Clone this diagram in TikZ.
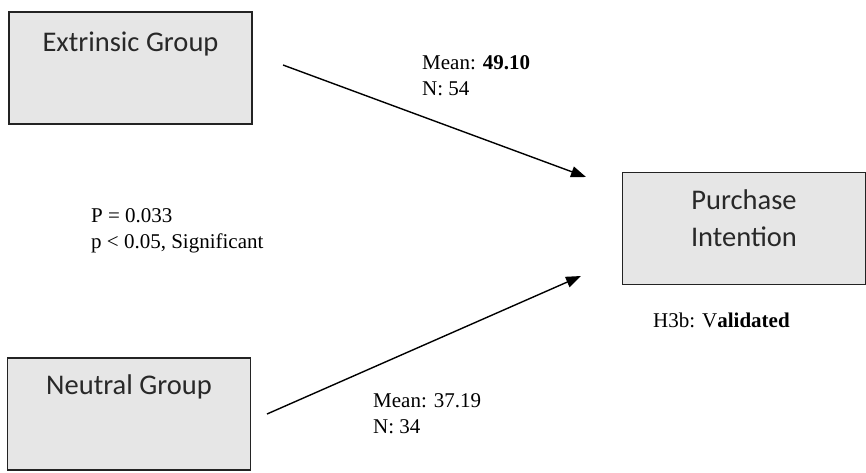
\documentclass[tikz,border=0pt]{standalone}
\usepackage{fontspec}
\setmainfont{Liberation Serif}
\newfontfamily\boxfont{Carlito}
\usetikzlibrary{arrows.meta}
\definecolor{boxgray}{RGB}{230,230,230}
\definecolor{linegray}{RGB}{35,35,35}
\definecolor{textgray}{RGB}{40,40,40}
\tikzset{
  groupbox/.style={draw=linegray, line width=1.5pt, fill=boxgray, minimum width=243pt, minimum height=112pt, inner sep=0pt},
  boxtext/.style={font=\boxfont\fontsize{28.5}{37}\selectfont, text=textgray, align=center, inner sep=0pt, anchor=base},
  stattext/.style={font=\fontsize{21}{25.5}\selectfont, align=left, anchor=base west, inner sep=0pt},
  effect/.style={line width=1.4pt, -{Triangle[length=15pt,width=11pt]}}
}
\begin{document}
\begin{tikzpicture}[x=1pt,y=1pt,yscale=-1,xscale=1]
\useasboundingbox (0,0) rectangle (866,472);

%Shape: Rectangles
\node [groupbox] (extrinsic) at (130.5,68) {};
\node [groupbox] (purchase) at (744,228.5) {};
\node [groupbox] (neutral) at (129,414) {};

% Text Nodes in boxes (base = last line)
\node [boxtext] (extrinsiclabel) at ([yshift=40pt]extrinsic.north) {Extrinsic Group};
\node [boxtext] (purchaselabel) at ([yshift=75pt]purchase.north) {Purchase\\Intention};
\node [boxtext] (neutrallabel) at ([yshift=37pt]neutral.north) {Neutral Group};

%Straight Lines
\coordinate (extstart) at (283,65);
\coordinate (extend) at (586,177);
\coordinate (neustart) at (267,414);
\coordinate (neuend) at (581,276);
\draw [effect] (extstart) -- (extend);
\draw [effect] (neustart) -- (neuend);

% Text Nodes
\node [stattext] (extstats) at (422,95) {Mean: \textbf{49.10}\\N: 54};
\node [stattext] (neustats) at (373,433) {Mean: 37.19\\N: 34};
\node [stattext] (ptest) at (91,248) {P = 0.033\\p < 0.05, Significant};
\node [stattext] (hypo) at (653,327) {H3b: V\textbf{alidated}};

\end{tikzpicture}
\end{document}
